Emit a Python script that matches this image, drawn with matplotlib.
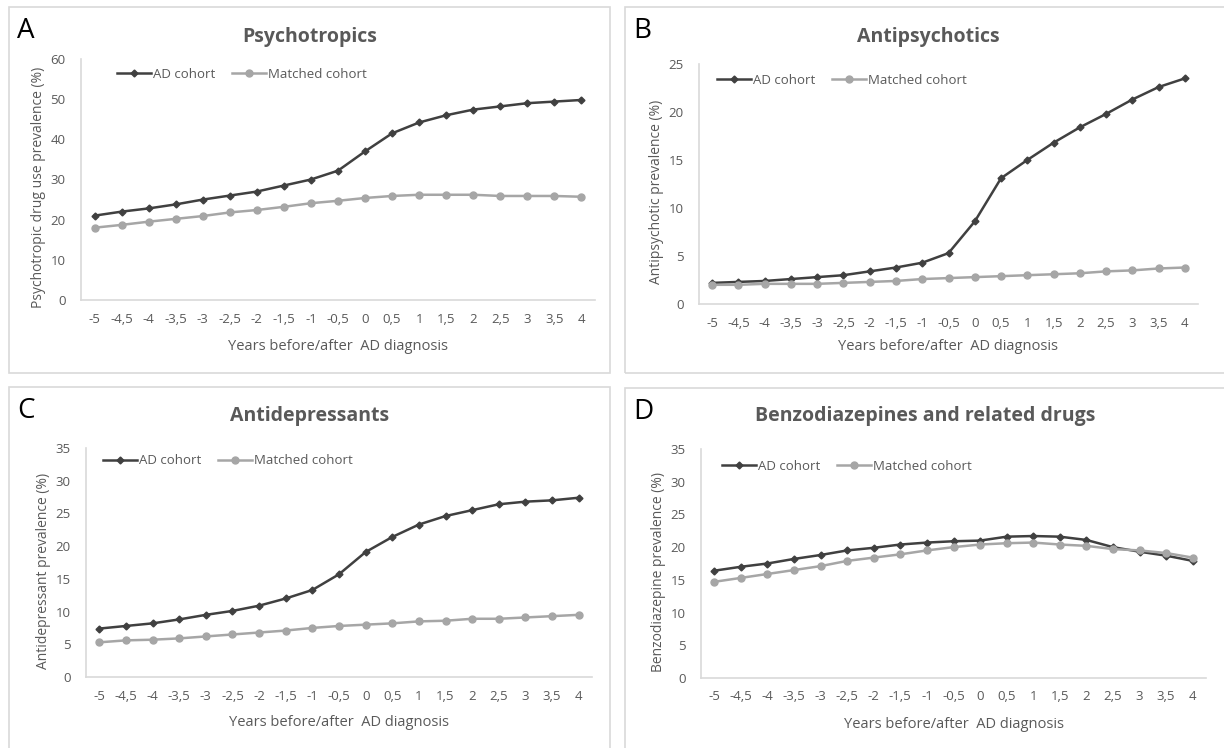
import matplotlib
matplotlib.use("Agg")
import matplotlib.pyplot as plt
from matplotlib.patches import Rectangle

plt.rcParams['font.family'] = ['Open Sans', 'DejaVu Sans']

years = [-5, -4.5, -4, -3.5, -3, -2.5, -2, -1.5, -1, -0.5, 0, 0.5, 1, 1.5, 2, 2.5, 3, 3.5, 4]
year_labels = ["-5", "-4,5", "-4", "-3,5", "-3", "-2,5", "-2", "-1,5", "-1", "-0,5",
               "0", "0,5", "1", "1,5", "2", "2,5", "3", "3,5", "4"]

psy_ad = [21.0, 22.0, 22.8, 23.8, 25.0, 26.0, 27.0, 28.5, 30.0, 32.2, 37.0, 41.5, 44.2,
          46.0, 47.4, 48.2, 49.0, 49.4, 49.8]
psy_matched = [18.0, 18.7, 19.5, 20.2, 20.9, 21.8, 22.4, 23.2, 24.1, 24.7, 25.4, 25.9,
               26.2, 26.2, 26.2, 25.9, 25.9, 25.9, 25.7]

anti_ad = [2.2, 2.3, 2.4, 2.6, 2.8, 3.0, 3.4, 3.8, 4.3, 5.3, 8.6, 13.1, 15.0, 16.8, 18.4,
           19.8, 21.3, 22.6, 23.5]
anti_matched = [2.0, 2.0, 2.1, 2.1, 2.1, 2.2, 2.3, 2.4, 2.6, 2.7, 2.8, 2.9, 3.0, 3.1, 3.2,
                3.4, 3.5, 3.7, 3.8]

dep_ad = [7.4, 7.8, 8.2, 8.8, 9.5, 10.1, 10.9, 12.0, 13.3, 15.7, 19.1, 21.4, 23.3, 24.6,
          25.5, 26.4, 26.8, 27.0, 27.4]
dep_matched = [5.3, 5.6, 5.7, 5.9, 6.2, 6.5, 6.8, 7.1, 7.5, 7.8, 8.0, 8.2, 8.5, 8.6, 8.9,
               8.9, 9.1, 9.3, 9.5]

benzo_ad = [16.4, 17.0, 17.5, 18.2, 18.8, 19.5, 19.9, 20.4, 20.7, 20.9, 21.0, 21.6, 21.7,
            21.6, 21.1, 20.0, 19.3, 18.7, 17.9]
benzo_matched = [14.7, 15.3, 15.9, 16.5, 17.1, 17.9, 18.4, 18.9, 19.5, 20.0, 20.4, 20.6,
                 20.7, 20.4, 20.2, 19.7, 19.5, 19.1, 18.4]

W, H = 1224, 748
fig = plt.figure(figsize=(W / 100, H / 100), dpi=100)

ad_color = "#404040"
matched_color = "#a6a6a6"
axis_color = "#d9d9d9"
text_color = "#595959"


def fx(x):
    return x / W


def fy(y):
    return 1 - y / H


def panel(box, letter, title, ax_box, ymax, ystep, ylabel, ad, matched, title_xy, ylabel_x,
          xlabel_y, legend_xy):
    # grey frame round each chart
    x0, y0, x1, y1 = box
    fig.patches.append(Rectangle((fx(x0), fy(y1)), fx(x1 - x0), (y1 - y0) / H,
                                 transform=fig.transFigure, fill=False,
                                 edgecolor=axis_color, linewidth=1.2))
    fig.text(fx(x0 + 8), fy(y0 + 24), letter, fontsize=20, color="black",
             ha="left", va="center")
    fig.text(fx(title_xy[0]), fy(title_xy[1]), title, fontsize=14, fontweight="bold",
             color=text_color, ha="center", va="center")

    l, r, b, t = ax_box
    ax = fig.add_axes([fx(l), fy(b), fx(r - l), (b - t) / H])
    ax.plot(years, ad, color=ad_color, linewidth=1.8, marker="D", markersize=3.5,
            label="AD cohort")
    ax.plot(years, matched, color=matched_color, linewidth=1.8, marker="o", markersize=5,
            label="Matched cohort")
    ax.set_xlim(-5.25, 4.25)
    ax.set_ylim(0, ymax)
    ax.set_xticks(years)
    ax.set_xticklabels(year_labels)
    ax.set_yticks(range(0, ymax + 1, ystep))
    for s in ["top", "right"]:
        ax.spines[s].set_visible(False)
    for s in ["left", "bottom"]:
        ax.spines[s].set_color(axis_color)
        ax.spines[s].set_linewidth(1.2)
    ax.tick_params(axis="both", length=0, labelsize=9.5, labelcolor=text_color)
    ax.tick_params(axis="x", pad=9)
    ax.tick_params(axis="y", pad=11)
    ax.patch.set_alpha(0)

    fig.text(fx(ylabel_x), fy((b + t) / 2 + 8), ylabel, rotation=90, fontsize=10,
             color=text_color, ha="center", va="center")
    fig.text(fx((l + r) / 2), fy(xlabel_y), "Years before/after  AD diagnosis",
             fontsize=10.5, color=text_color, ha="center", va="center")

    ax.legend(loc="center left", bbox_to_anchor=(fx(legend_xy[0]), fy(legend_xy[1])),
              bbox_transform=fig.transFigure, ncol=2, frameon=False, fontsize=9.5,
              handlelength=2.6, handletextpad=0.1, columnspacing=1.3, borderpad=0,
              borderaxespad=0, labelcolor=text_color)
    return ax


panel((9, 7, 610, 373), "A", "Psychotropics", (81, 595, 300, 59), 60, 10,
      "Psychotropic drug use prevalence (%)", psy_ad, psy_matched,
      (310, 37), 39, 346, (117, 74))
panel((625, 7, 1260, 373), "B", "Antipsychotics", (699, 1198, 304, 64), 25, 5,
      "Antipsychotic prevalence (%)", anti_ad, anti_matched,
      (928, 37), 657, 346, (717, 80))
panel((9, 387, 610, 790), "C", "Antidepressants", (86, 592, 677, 448), 35, 5,
      "Antidepressant prevalence (%)", dep_ad, dep_matched,
      (310, 416), 44, 723, (103, 461))
panel((625, 388, 1260, 790), "D", "Benzodiazepines and related drugs", (701, 1206, 678, 449), 35, 5,
      "Benzodiazepine prevalence (%)", benzo_ad, benzo_matched,
      (925, 416), 659, 724, (722, 466))

fig.savefig("out.png", dpi=100, facecolor="white")
